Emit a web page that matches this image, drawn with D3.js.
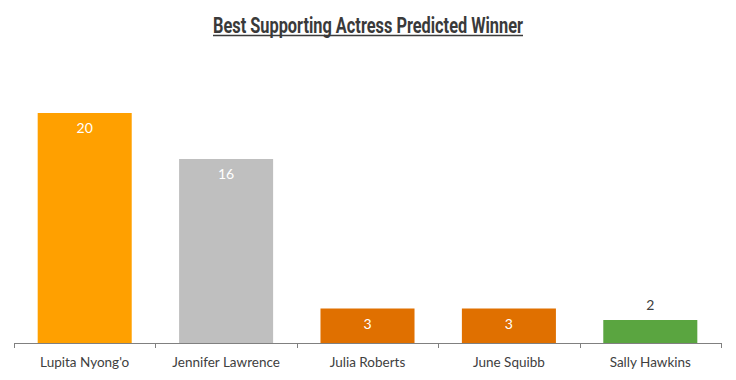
<meta charset="utf-8">
<style>
    body { margin: 0; background: #ffffff; }
    .tick text { font-family: Lato, "Open Sans", sans-serif; font-size: 13.5px; fill: #404040; }
</style>
<body>
<script src="https://d3js.org/d3.v7.min.js"></script>
<script>
    const names = ["Lupita Nyong'o", "Jennifer Lawrence", "Julia Roberts", "June Squibb", "Sally Hawkins"];
    const votes = [20, 16, 3, 3, 2];
    const colors = ["#FFA000", "#BFBFBF", "#E07000", "#E07000", "#5AA540"];

    let width = 736, height = 380;
    let baseY = 343;

    let svg = d3.select("body").append("svg")
        .attr("width", width)
        .attr("height", height);

    // title, squeezed to look condensed
    svg.append("text")
        .attr("x", 213)
        .attr("y", 33)
        .attr("textLength", 310)
        .attr("lengthAdjust", "spacingAndGlyphs")
        .style("font-family", "Roboto, sans-serif")
        .style("font-weight", "bold")
        .style("font-size", "22px")
        .style("fill", "#3a3a3a")
        .text("Best Supporting Actress Predicted Winner");

    svg.append("line")
        .attr("x1", 213).attr("x2", 523)
        .attr("y1", 35.5).attr("y2", 35.5)
        .style("stroke", "#3a3a3a")
        .style("stroke-width", 1.3);

    let xScale = d3.scaleBand()
        .domain(names)
        .range([14, 721])
        .paddingInner(0.335)
        .paddingOuter(0.1675);

    let yScale = d3.scaleLinear()
        .domain([0, 25])
        .range([baseY, baseY - 287.5]);

    let data = names.map(function (n, i) {
        return {name: n, value: votes[i], color: colors[i]};
    });

    svg.selectAll("rect.bar")
        .data(data)
        .enter().append("rect")
        .attr("class", "bar")
        .attr("x", function (d) { return xScale(d.name); })
        .attr("y", function (d) { return yScale(d.value); })
        .attr("width", xScale.bandwidth())
        .attr("height", function (d) { return baseY - yScale(d.value); })
        .style("fill", function (d) { return d.color; });

    svg.selectAll("text.lbl")
        .data(data)
        .enter().append("text")
        .attr("class", "lbl")
        .attr("x", function (d) { return xScale(d.name) + xScale.bandwidth() / 2; })
        .attr("y", function (d) {
            return d.value > 2 ? yScale(d.value) + 20 : yScale(d.value) - 10;
        })
        .attr("text-anchor", "middle")
        .style("font-family", "Lato, 'Open Sans', sans-serif")
        .style("font-size", "14px")
        .style("fill", function (d) { return d.value > 2 ? "#ffffff" : "#404040"; })
        .text(function (d) { return d.value; });

    // axis with ticks between categories
    let axis = d3.axisBottom(xScale).tickSize(0).tickPadding(14);
    let g = svg.append("g")
        .attr("transform", "translate(0," + baseY + ")")
        .call(axis);
    g.select(".domain").remove();

    let step = xScale.step();
    let bounds = d3.range(names.length + 1).map(function (i) { return 14 + i * step; });

    g.append("line")
        .attr("x1", 14).attr("x2", 722)
        .attr("y1", 0.5).attr("y2", 0.5)
        .style("stroke", "#808080");

    g.selectAll("line.sep")
        .data(bounds)
        .enter().append("line")
        .attr("class", "sep")
        .attr("x1", function (d) { return Math.round(d) + 0.5; })
        .attr("x2", function (d) { return Math.round(d) + 0.5; })
        .attr("y1", 0).attr("y2", 5)
        .style("stroke", "#808080");
</script>
</body>
